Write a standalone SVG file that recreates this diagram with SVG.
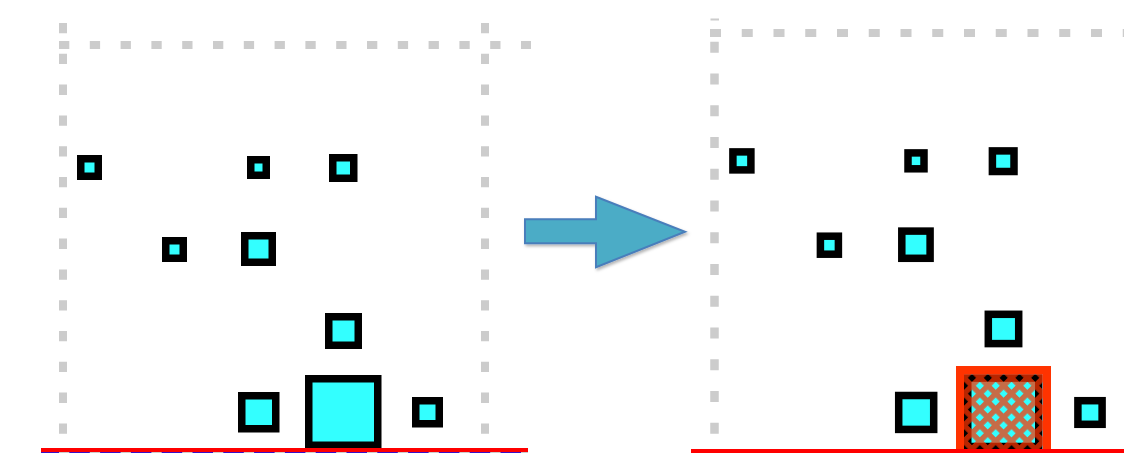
<svg xmlns="http://www.w3.org/2000/svg" width="1124" height="453" viewBox="0 0 1124 453">
<style>
.sq{fill:#33FFFF;stroke:#000;stroke-width:7.5}
.frameL{stroke:#CCCCCC;stroke-width:8;fill:none;stroke-dasharray:10.3 20.5}
.frameR{stroke:#CCCCCC;stroke-width:8.5;fill:none;stroke-dasharray:11 20.75}
.ground{fill:#FF0000}
</style>
<defs>
<pattern id="hatch" patternUnits="userSpaceOnUse" width="11.2" height="11.2" patternTransform="translate(964 374) rotate(45)">
<g fill="#FF3300" opacity="0.72">
<path d="M0,0H11.2V5.4H5.4V11.2H0Z"/>
</g>
</pattern>
<filter id="shadow" x="-10%" y="-10%" width="130%" height="140%">
<feDropShadow dx="1.5" dy="2" stdDeviation="1.5" flood-color="#000" flood-opacity="0.3"/>
</filter>
</defs>
<rect width="1124" height="453" fill="#FFFFFF"/>

<g id="frame-left">
<line class="frameL" x1="59" y1="45" x2="531" y2="45"/>
<line class="frameL" x1="63" y1="23" x2="63" y2="434"/>
<line class="frameL" x1="485" y1="23" x2="485" y2="434"/>
</g>
<g id="frame-right">
<line class="frameR" x1="710" y1="33" x2="1124" y2="33" style="stroke-width:8"/>
<line class="frameR" x1="714.5" y1="41.7" x2="714.5" y2="434"/>
<rect x="710.5" y="18.5" width="8.5" height="2" fill="#CCCCCC"/>
</g>

<g id="left-squares">
<rect id="L1" class="sq" x="80.75" y="158.75" width="17.5" height="17.5"/>
<rect id="L2" class="sq" x="250.75" y="159.75" width="15.5" height="15.5"/>
<rect id="L3" class="sq" x="332.75" y="157.75" width="21" height="20.5"/>
<rect id="L4" class="sq" x="165.75" y="240.75" width="17.5" height="17.5"/>
<rect id="L5" class="sq" x="244.75" y="235.75" width="27.5" height="26.5"/>
<rect id="L6" class="sq" x="328.75" y="316.75" width="29.5" height="28.5"/>
<rect id="L7" class="sq" x="241.75" y="395.75" width="34" height="33"/>
<rect id="L8" class="sq" x="308.75" y="378.75" width="69" height="66.5"/>
<rect id="L9" class="sq" x="415.75" y="400.75" width="23.5" height="23"/>
</g>

<g id="ground-left">
<rect x="41" y="452" width="487" height="1" fill="#3A10C8"/>
<line x1="59" y1="452.5" x2="528" y2="452.5" stroke="#CCCCCC" stroke-width="1" stroke-dasharray="10.3 20.5"/>
<rect class="ground" x="41" y="448" width="487" height="4"/>
</g>

<g id="right-squares">
<rect id="R1" class="sq" x="732.9" y="151.9" width="18" height="18"/>
<rect id="R2" class="sq" x="908" y="152.9" width="16" height="15.9"/>
<rect id="R3" class="sq" x="992.4" y="150.9" width="21.6" height="20.6"/>
<rect id="R4" class="sq" x="820.4" y="236.2" width="18" height="18"/>
<rect id="R5" class="sq" x="901.8" y="231.1" width="28.3" height="27.2"/>
<rect id="R6" class="sq" x="988.3" y="314.3" width="30.4" height="29.3"/>
<rect id="R7" class="sq" x="898.7" y="395.5" width="35" height="33.9"/>
<rect id="R9" class="sq" x="1077.9" y="400.7" width="24.2" height="23.6"/>
</g>

<g id="R8-hatched">
<rect class="sq" x="967.75" y="378.1" width="71" height="68.4"/>
<rect x="964" y="374" width="79" height="80" fill="url(#hatch)"/>
<rect x="960" y="370" width="87" height="90" fill="none" stroke="#FF3300" stroke-width="8"/>
</g>

<g id="ground-right">
<rect class="ground" x="691" y="449" width="433" height="4"/>
</g>

<g id="connectors">
<polygon points="525,219.3 596,219.3 596,196.7 685,231.7 596,267.3 596,243.3 525,243.3" fill="#4BACC6" stroke="#4A7EBB" stroke-width="2" stroke-linejoin="miter" filter="url(#shadow)"/>
</g>
</svg>
